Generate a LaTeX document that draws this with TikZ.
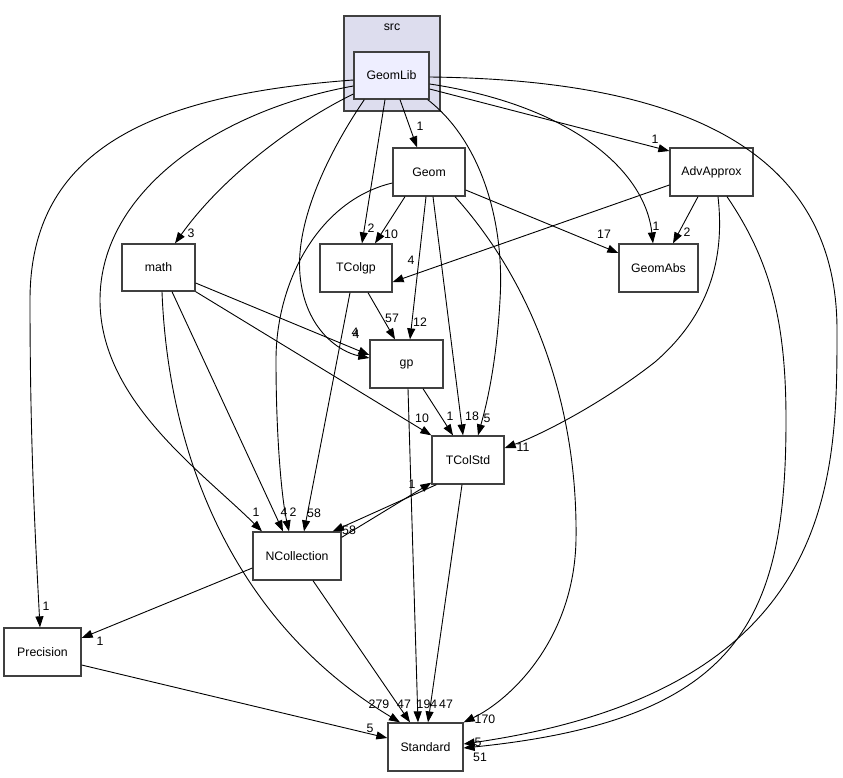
\documentclass[tikz,border=0pt]{standalone}
\usepackage{fontspec}
\setmainfont{Liberation Sans}
\usetikzlibrary{arrows.meta}
\definecolor{clusterfill}{HTML}{DDDDEE}
\definecolor{mainfill}{HTML}{EEEEFF}
\definecolor{boxline}{HTML}{404040}
\tikzset{
  box/.style={draw=boxline, line width=1.3pt, fill=white, minimum height=48pt, inner sep=0pt, font=\fontsize{12.3}{14}\selectfont},
  edge/.style={-{Triangle[length=11pt,width=8pt]}, line width=0.9pt, black},
  lbl/.style={font=\fontsize{12.3}{14}\selectfont, inner sep=0pt}
}
\begin{document}
\begin{tikzpicture}[x=1pt,y=-1pt]
\useasboundingbox (0,0) rectangle (843,777);
% cluster
\node[draw=boxline, line width=1.3pt, fill=clusterfill, minimum width=96pt, minimum height=95pt, inner sep=0pt] (src) at (392,63.5) {};
\node[lbl] (srclbl) at (392,27) {src};
% nodes
\node[box, fill=mainfill, minimum width=75pt, minimum height=47pt] (GeomLib) at (391.5,75.5) {GeomLib};
\node[box, minimum width=72pt] (Geom) at (429,172) {Geom};
\node[box, minimum width=83pt] (AdvApprox) at (711.5,172) {AdvApprox};
\node[box, minimum width=79pt] (GeomAbs) at (658.5,268) {GeomAbs};
\node[box, minimum width=72pt] (TColgp) at (356,268) {TColgp};
\node[box, minimum width=73pt, minimum height=47pt] (math) at (158.5,267.5) {math};
\node[box, minimum width=73pt] (gp) at (406.5,364) {gp};
\node[box, minimum width=72pt] (TColStd) at (468,460) {TColStd};
\node[box, minimum width=88pt] (NCollection) at (297,556) {NCollection};
\node[box, minimum width=75pt] (Standard) at (425.5,747) {Standard};
\node[box, minimum width=77pt] (Precision) at (42.5,652) {Precision};

% straight edges
\draw[edge] ([xshift=8.5pt]GeomLib.south) -- ([xshift=-12pt]Geom.north);
\draw[edge] ([xshift=-6.5pt]GeomLib.south) -- ([xshift=6pt]TColgp.north);
\draw[edge] ([yshift=-13.5pt]GeomLib.east) -- ([yshift=21pt]AdvApprox.west);
\draw[edge] ([xshift=-13.5pt]AdvApprox.south) -- ([xshift=14.5pt]GeomAbs.north);
\draw[edge] ([yshift=-13pt]AdvApprox.west) -- ([yshift=-14pt]TColgp.east);
\draw[edge] ([yshift=-18pt]Geom.east) -- ([yshift=15pt]GeomAbs.west);
\draw[edge] ([xshift=-24pt]Geom.south) -- ([xshift=19pt]TColgp.north);
\draw[edge] ([xshift=-3pt]Geom.south) -- ([xshift=3.5pt]gp.north);
\draw[edge] ([xshift=4pt]Geom.south) -- ([xshift=-5pt]TColStd.north);
\draw[edge] ([yshift=-15.5pt]math.east) -- ([yshift=9pt]gp.west);
\draw[edge] (math.south east) -- (TColStd.north west);
\draw[edge] ([xshift=13.5pt]math.south) -- ([xshift=-14pt]NCollection.north);
\draw[edge] ([xshift=12pt]TColgp.south) -- ([xshift=-11.5pt]gp.north);
\draw[edge] ([xshift=-6pt]TColgp.south) -- ([xshift=7pt]NCollection.north);
\draw[edge] ([xshift=16.5pt]gp.south) -- ([xshift=-15pt]TColStd.north);
\draw[edge] ([xshift=1.5pt]gp.south) -- ([xshift=-7.5pt]Standard.north);
\draw[edge] ([xshift=5pt]TColStd.south west) -- ([xshift=-9pt]NCollection.north east);
\draw[edge] ([yshift=-6pt]NCollection.north east) -- ([yshift=2pt]TColStd.south west);
\draw[edge] ([xshift=-6pt]TColStd.south) -- ([xshift=2.5pt]Standard.north);
\draw[edge] ([xshift=16pt]NCollection.south) -- ([xshift=-15.5pt]Standard.north);
\draw[edge] ([yshift=-12pt]NCollection.west) -- ([yshift=14pt]Precision.east);
\draw[edge] ([yshift=-13pt]Precision.east) -- ([yshift=9pt]Standard.west);

% curved edges
\draw[edge] ([yshift=-4.5pt]GeomLib.west) .. controls (150,95) and (30,150) .. (30,300) .. controls (30,450) and (36,550) .. ([xshift=-2.5pt]Precision.north);
\draw[edge] ([yshift=-10.5pt]GeomLib.west) .. controls (220,110) and (100,190) .. (100,300) .. controls (100,400) and (200,470) .. ([xshift=-35pt]NCollection.north);
\draw[edge] ([yshift=-18.5pt]GeomLib.west) .. controls (290,125) and (220,180) .. ([xshift=16.5pt]math.north);
\draw[edge] ([xshift=11pt]GeomLib.south west) .. controls (330,150) and (295,220) .. (300,275) .. controls (305,330) and (340,352) .. ([yshift=6pt]gp.west);
\draw[edge] ([xshift=-2pt]GeomLib.south east) .. controls (480,140) and (505,220) .. (500,300) .. controls (496,370) and (485,410) .. ([xshift=10pt]TColStd.north);
\draw[edge] ([yshift=-8.5pt]GeomLib.east) .. controls (570,105) and (645,170) .. ([xshift=-5.5pt]GeomAbs.north);
\draw[edge] ([yshift=-1.5pt]GeomLib.east) .. controls (700,80) and (837,160) .. (837,330) .. controls (837,480) and (837,690) .. ([yshift=3pt]Standard.east);
\draw[edge] ([xshift=15.5pt]AdvApprox.south) .. controls (770,260) and (786,320) .. (786,420) .. controls (786,620) and (740,720) .. ([yshift=-1pt]Standard.east);
\draw[edge] ([xshift=6.5pt]AdvApprox.south) .. controls (724,250) and (715,310) .. (655,362) .. controls (600,405) and (540,435) .. ([yshift=12pt]TColStd.east);
\draw[edge] ([yshift=-11pt]Geom.west) .. controls (320,200) and (276,280) .. (276,360) .. controls (276,440) and (282,500) .. ([xshift=-8pt]NCollection.north);
\draw[edge] ([xshift=26pt]Geom.south) .. controls (530,280) and (578,400) .. (576,540) .. controls (574,640) and (510,700) .. (Standard.north east);
\draw[edge] ([xshift=3.5pt]math.south) .. controls (168,450) and (230,620) .. ([xshift=-25.5pt]Standard.north);

% labels
\node[lbl] (l1) at (46,606) {1};
\node[lbl] (l2) at (100,641) {1};
\node[lbl] (l3) at (256,512) {1};
\node[lbl] (l4) at (284,512) {4};
\node[lbl] (l5) at (293,512) {2};
\node[lbl] (l6) at (314,513) {58};
\node[lbl] (l7) at (349,530) {58};
\node[lbl] (l8) at (412,484) {1};
\node[lbl] (l9) at (422,418) {10};
\node[lbl] (l10) at (450,416) {1};
\node[lbl] (l11) at (472,416) {18};
\node[lbl] (l12) at (487,418) {5};
\node[lbl] (l13) at (523,447) {11};
\node[lbl] (l14) at (392,318) {57};
\node[lbl] (l15) at (420,322) {12};
\node[lbl] (l16) at (355,332) {4};
\node[lbl] (l17) at (356,334) {4};
\node[lbl] (l18) at (371,228) {2};
\node[lbl] (l19) at (391,234) {10};
\node[lbl] (l20) at (411,260) {4};
\node[lbl] (l21) at (420,126) {1};
\node[lbl] (l22) at (655,139) {1};
\node[lbl] (l23) at (604,234) {17};
\node[lbl] (l24) at (656,226) {1};
\node[lbl] (l25) at (687,232) {2};
\node[lbl] (l26) at (191,233) {3};
\node[lbl] (l27) at (379,704) {279};
\node[lbl] (l28) at (404,704) {47};
\node[lbl] (l29) at (427,704) {194};
\node[lbl] (l30) at (446,704) {47};
\node[lbl] (l31) at (485,719) {170};
\node[lbl] (l32) at (370,728) {5};
\node[lbl] (l33) at (478,742) {5};
\node[lbl] (l34) at (480,757) {51};
\end{tikzpicture}
\end{document}
